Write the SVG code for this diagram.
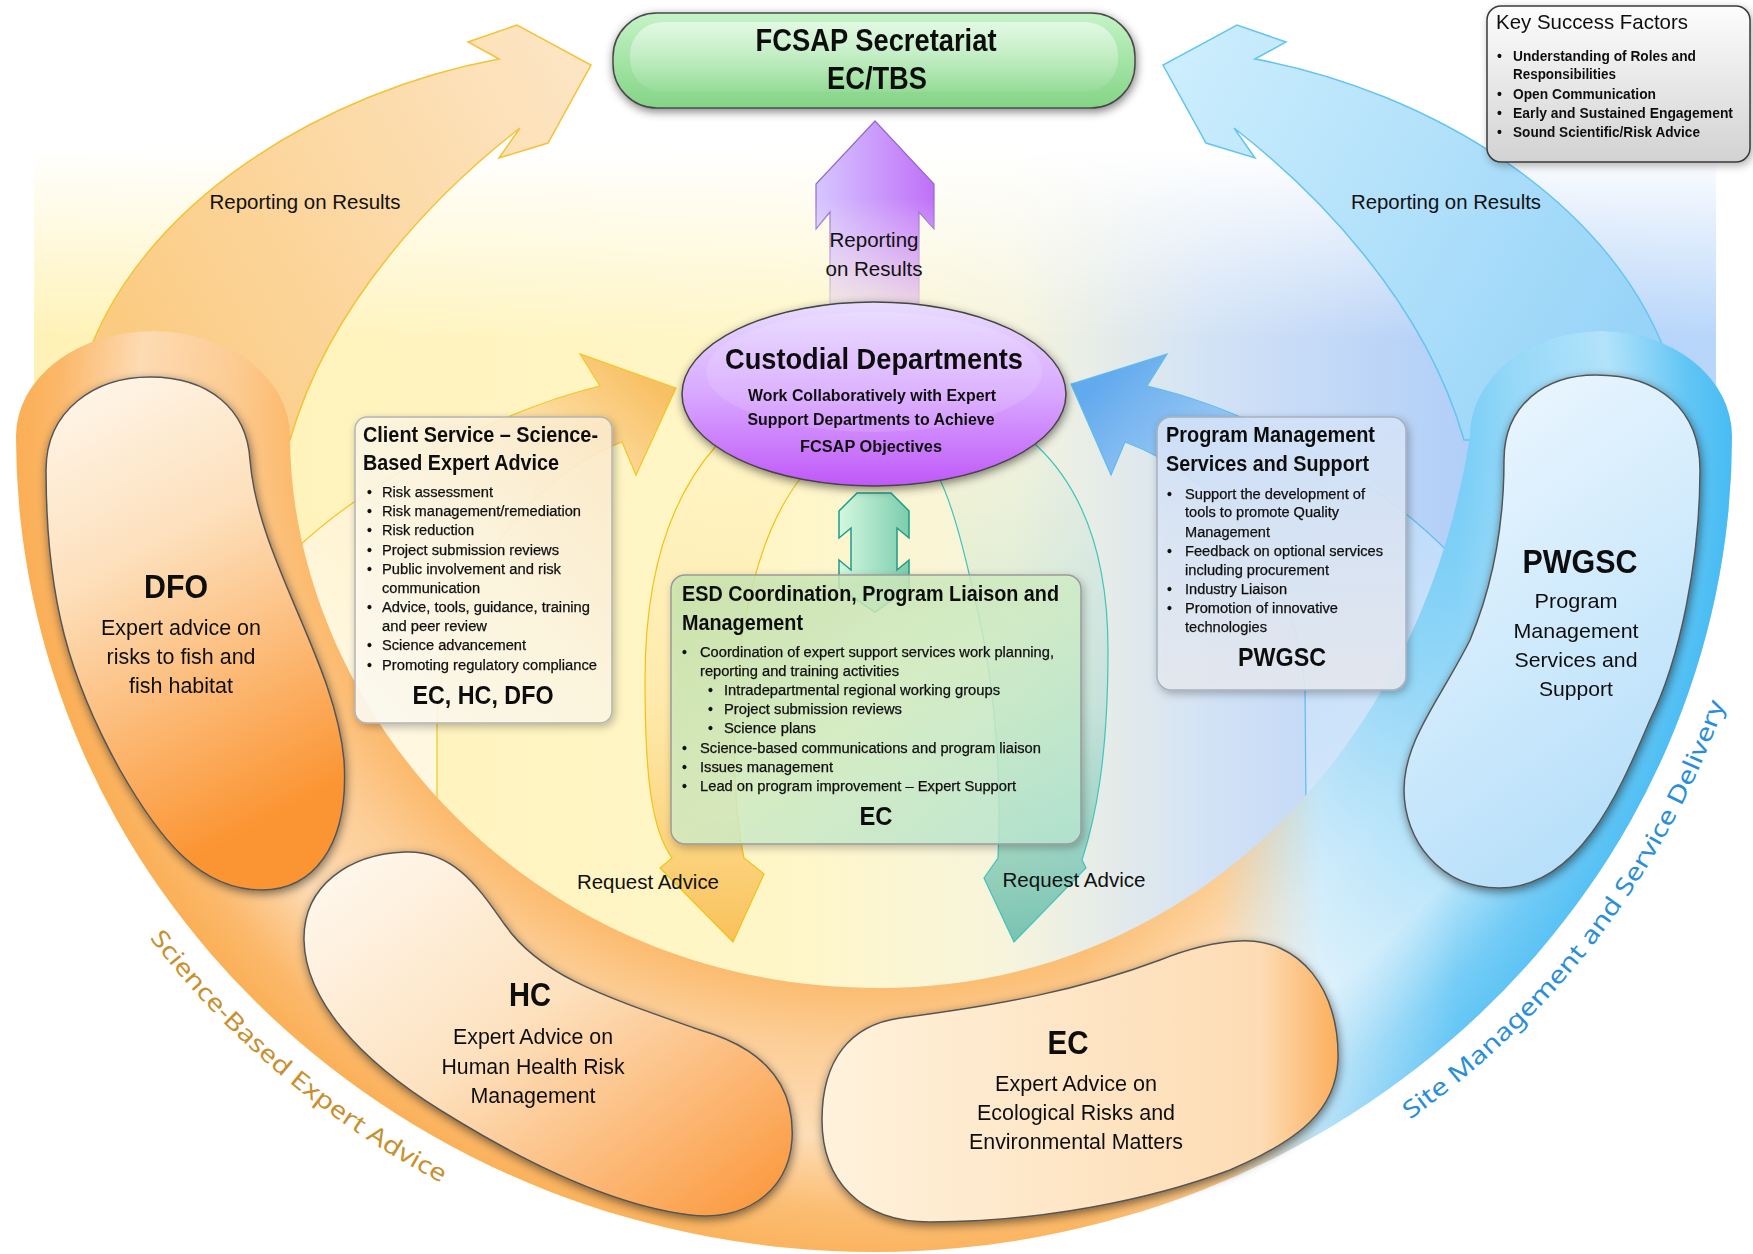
<svg xmlns="http://www.w3.org/2000/svg" width="1753" height="1254" viewBox="0 0 1753 1254">
<defs>
<style>
.f{font-family:"Liberation Sans",Arial,Helvetica,sans-serif;fill:#111}
.bd{font-weight:700}
.bl{stroke:#111;stroke-width:0.25}
</style>
<filter id="sh" x="-20%" y="-20%" width="140%" height="140%">
<feGaussianBlur in="SourceAlpha" stdDeviation="5"/><feOffset dx="1" dy="3" result="b"/>
<feFlood flood-color="#000" flood-opacity="0.5"/><feComposite in2="b" operator="in"/>
<feMerge><feMergeNode/><feMergeNode in="SourceGraphic"/></feMerge>
</filter>
<filter id="sh2" x="-20%" y="-20%" width="140%" height="140%">
<feGaussianBlur in="SourceAlpha" stdDeviation="4"/><feOffset dx="2" dy="3" result="b"/>
<feFlood flood-color="#000" flood-opacity="0.3"/><feComposite in2="b" operator="in"/>
<feMerge><feMergeNode/><feMergeNode in="SourceGraphic"/></feMerge>
</filter>
<linearGradient id="gBg" gradientUnits="userSpaceOnUse" x1="34" y1="0" x2="1716" y2="0">
<stop offset="0" stop-color="#fff2b6"/><stop offset="0.45" stop-color="#fff6c8"/><stop offset="0.58" stop-color="#f6f4dc"/><stop offset="0.7" stop-color="#d2e2f6"/><stop offset="0.85" stop-color="#b2cff8"/><stop offset="1" stop-color="#b8d6fa"/>
</linearGradient>
<linearGradient id="gFadeTop" gradientUnits="userSpaceOnUse" x1="0" y1="150" x2="0" y2="340">
<stop offset="0" stop-color="#fff" stop-opacity="1"/><stop offset="1" stop-color="#fff" stop-opacity="0"/>
</linearGradient>
<linearGradient id="gBand" gradientUnits="userSpaceOnUse" x1="16" y1="0" x2="1732" y2="0">
<stop offset="0" stop-color="#fbae55"/><stop offset="0.62" stop-color="#fbb663"/><stop offset="0.7" stop-color="#fcc888"/><stop offset="0.76" stop-color="#b8e2f8"/><stop offset="0.84" stop-color="#64c6f5"/><stop offset="1" stop-color="#48bcf3"/>
</linearGradient>
<radialGradient id="gBandHi" gradientUnits="userSpaceOnUse" cx="874" cy="436" r="858" gradientTransform="translate(874 436) scale(1 0.951) translate(-874 -436)">
<stop offset="0.64" stop-color="#fff" stop-opacity="0"/><stop offset="0.75" stop-color="#fff" stop-opacity="0.35"/><stop offset="0.86" stop-color="#fff" stop-opacity="0.55"/><stop offset="0.95" stop-color="#fff" stop-opacity="0.12"/><stop offset="1" stop-color="#fff" stop-opacity="0"/>
</radialGradient>
<linearGradient id="gRepL" gradientUnits="userSpaceOnUse" x1="120" y1="330" x2="590" y2="60">
<stop offset="0" stop-color="#fbcb82"/><stop offset="1" stop-color="#fde6c6"/>
</linearGradient>
<linearGradient id="gRepR" gradientUnits="userSpaceOnUse" x1="1630" y1="330" x2="1165" y2="60">
<stop offset="0" stop-color="#98d4f8"/><stop offset="1" stop-color="#cdeefd"/>
</linearGradient>
<linearGradient id="gSmL" gradientUnits="userSpaceOnUse" x1="360" y1="700" x2="660" y2="390">
<stop offset="0" stop-color="#fff8e6" stop-opacity="0.85"/><stop offset="0.55" stop-color="#fff0cc" stop-opacity="0.8"/><stop offset="1" stop-color="#f8c064"/>
</linearGradient>
<linearGradient id="gSmR" gradientUnits="userSpaceOnUse" x1="1400" y1="700" x2="1090" y2="390">
<stop offset="0" stop-color="#d6eafc" stop-opacity="0.7"/><stop offset="0.6" stop-color="#a6cff6" stop-opacity="0.85"/><stop offset="1" stop-color="#62aaee"/>
</linearGradient>
<linearGradient id="gReqL" gradientUnits="userSpaceOnUse" x1="0" y1="460" x2="0" y2="940">
<stop offset="0" stop-color="#fcd27a" stop-opacity="0.05"/><stop offset="0.5" stop-color="#fbc860" stop-opacity="0.25"/><stop offset="1" stop-color="#f8b848" stop-opacity="0.85"/>
</linearGradient>
<linearGradient id="gReqR" gradientUnits="userSpaceOnUse" x1="0" y1="460" x2="0" y2="940">
<stop offset="0" stop-color="#7ad0c0" stop-opacity="0.05"/><stop offset="0.5" stop-color="#6cc6b4" stop-opacity="0.25"/><stop offset="1" stop-color="#5ab8a6" stop-opacity="0.8"/>
</linearGradient>
<linearGradient id="gDFO" x1="0" y1="0" x2="0.3" y2="1">
<stop offset="0" stop-color="#fff8ee"/><stop offset="0.4" stop-color="#fde0bc"/><stop offset="1" stop-color="#fb9432"/>
</linearGradient>
<linearGradient id="gHC" x1="0" y1="0" x2="1" y2="1">
<stop offset="0" stop-color="#fffaf2"/><stop offset="0.45" stop-color="#fde2c0"/><stop offset="1" stop-color="#fb9436"/>
</linearGradient>
<linearGradient id="gEC" x1="0" y1="0" x2="1" y2="0">
<stop offset="0" stop-color="#fff2dc"/><stop offset="0.85" stop-color="#fddcb4"/><stop offset="1" stop-color="#fbae5c"/>
</linearGradient>
<linearGradient id="gPW" x1="0" y1="0" x2="0.4" y2="1">
<stop offset="0" stop-color="#f2f9ff"/><stop offset="1" stop-color="#b8e0fa"/>
</linearGradient>
<linearGradient id="gFc" x1="0" y1="0" x2="0" y2="1">
<stop offset="0" stop-color="#c4f4c6"/><stop offset="1" stop-color="#84d486"/>
</linearGradient>
<linearGradient id="gFcHi" x1="0" y1="0" x2="0" y2="1">
<stop offset="0" stop-color="#fff" stop-opacity="0.55"/><stop offset="1" stop-color="#fff" stop-opacity="0.05"/>
</linearGradient>
<linearGradient id="gKsf" x1="0" y1="0" x2="0" y2="1">
<stop offset="0" stop-color="#fdfdfd"/><stop offset="1" stop-color="#d2d2d2"/>
</linearGradient>
<linearGradient id="gCli" x1="1" y1="0" x2="0" y2="1">
<stop offset="0" stop-color="#ffeccc"/><stop offset="0.5" stop-color="#fff8e4"/><stop offset="1" stop-color="#fffdf4"/>
</linearGradient>
<linearGradient id="gEsd" x1="0" y1="0" x2="1" y2="1">
<stop offset="0" stop-color="#c8e6ae"/><stop offset="0.5" stop-color="#d4f0c8"/><stop offset="1" stop-color="#b8ead6"/>
</linearGradient>
<linearGradient id="gPm" x1="0" y1="0" x2="0" y2="1">
<stop offset="0" stop-color="#d4e4fb"/><stop offset="1" stop-color="#e6eaf0"/>
</linearGradient>
<linearGradient id="gCus" x1="0" y1="0" x2="0" y2="1">
<stop offset="0" stop-color="#e8dcff"/><stop offset="0.5" stop-color="#d8a8ff"/><stop offset="1" stop-color="#c058f8"/>
</linearGradient>
<linearGradient id="gPur" gradientUnits="userSpaceOnUse" x1="816" y1="0" x2="934" y2="0">
<stop offset="0" stop-color="#d6c6ff"/><stop offset="1" stop-color="#c070f8"/>
</linearGradient>
<linearGradient id="gFadeV" gradientUnits="userSpaceOnUse" x1="0" y1="110" x2="0" y2="330">
<stop offset="0" stop-color="#fff"/><stop offset="0.4" stop-color="#fff"/><stop offset="1" stop-color="#1a1a1a"/>
</linearGradient>
<mask id="mPur" maskUnits="userSpaceOnUse" x="790" y="100" width="170" height="240">
<rect x="790" y="100" width="170" height="240" fill="url(#gFadeV)"/>
</mask>
<linearGradient id="gTeal" x1="0" y1="0" x2="1" y2="0">
<stop offset="0" stop-color="#ccf8e2"/><stop offset="1" stop-color="#66c6a6"/>
</linearGradient>
<path id="arcL" d="M -22,436 A 896 853 0 0 0 874,1289"/>
<path id="arcR" d="M 874,1289 A 896 853 0 0 0 1770,436"/>
</defs>

<rect width="1753" height="1254" fill="#fff"/>

<g id="background">
<rect x="34" y="150" width="1682" height="290" fill="url(#gBg)"/>
<rect x="34" y="150" width="1682" height="290" fill="url(#gFadeTop)"/>
<path d="M16,436 A 858 816 0 0 0 1732,436 Z" fill="url(#gBg)"/>
</g>

<g id="connectors">
<path id="rep-left" d="M82,372 C135,200 330,90 499,59 L468,42 L517,25 L591,65 L548,143 L499,158 L520,128 C440,190 330,300 290,440 L200,440 Z" fill="url(#gRepL)" stroke="#f5c232" stroke-width="1.5"/>
<path id="rep-right" d="M1672,372 C1619,200 1424,90 1255,59 L1286,42 L1237,25 L1163,65 L1206,143 L1255,158 L1234,128 C1314,190 1424,300 1464,440 L1554,440 Z" fill="url(#gRepR)" stroke="#64c4f2" stroke-width="1.5"/>
<path id="adv-left" d="M676,388 L580,354 L600,386 C500,410 370,480 298,547 L300,640 L380,760 L437,830 L437,723 C440,600 520,480 622,442 L636,475 Z" fill="url(#gSmL)" stroke="#f5c520" stroke-width="1.2"/>
<path id="adv-right" d="M1071,384 L1167,354 L1147,386 C1250,410 1380,480 1452,556 L1475,620 L1420,740 L1306,810 L1305,690 C1300,590 1230,480 1125,442 L1111,475 Z" fill="url(#gSmR)" stroke="#5cbcf0" stroke-width="1.2"/>
</g>

<g id="ring">
<path d="M16,436 A 858 816 0 0 0 1732,436 A 131 105 0 0 0 1470,436 C1420,760 1180,988 880,988 C520,988 290,700 290,436 A 137 105 0 0 0 16,436 Z" fill="url(#gBand)"/>
<path d="M16,436 A 858 816 0 0 0 1732,436 A 131 105 0 0 0 1470,436 C1420,760 1180,988 880,988 C520,988 290,700 290,436 A 137 105 0 0 0 16,436 Z" fill="url(#gBandHi)"/>
</g>

<g id="connectors2">
<path id="req-left" d="M716,446 C668,500 645,580 645,680 C645,780 652,830 672,858 L660,868 L733,942 L764,874 L744,858 C732,800 730,700 745,620 C758,550 780,505 800,479 Z" fill="url(#gReqL)" stroke="#f5c010" stroke-width="1.2"/>
<path id="req-right" d="M1035,444 C1085,490 1108,560 1108,650 C1108,760 1095,820 1082,860 L1086,868 L1014,942 L984,878 L998,858 C1002,780 995,680 975,600 C962,540 950,500 940,480 Z" fill="url(#gReqR)" stroke="#40c4bc" stroke-width="1.2"/>
<path id="both" d="M857,493 L891,493 L909,511 L909,538 L897,528 L897,570 L909,560 L909,588 L875,612 L839,588 L839,560 L851,570 L851,528 L839,538 L839,511 Z" fill="url(#gTeal)" fill-opacity="0.85" stroke="#1e9c8a" stroke-width="1.5"/>
</g>

<g id="node-dfo" filter="url(#sh)">
<path d="M150,377 C210,377 247,410 250,460 C258,560 335,660 344,760 C350,850 310,890 262,890 C200,890 160,840 120,770 C70,680 46,600 46,470 C46,410 95,377 150,377 Z" fill="url(#gDFO)" stroke="#555" stroke-width="1.5"/>
<text class="f bd" x="176" y="598" font-size="34" text-anchor="middle" textLength="64" lengthAdjust="spacingAndGlyphs">DFO</text>
<text class="f" x="181" y="635" font-size="22" text-anchor="middle" textLength="160" lengthAdjust="spacingAndGlyphs">Expert advice on</text>
<text class="f" x="181" y="664" font-size="22" text-anchor="middle" textLength="149" lengthAdjust="spacingAndGlyphs">risks to fish and</text>
<text class="f" x="181" y="693" font-size="22" text-anchor="middle" textLength="104" lengthAdjust="spacingAndGlyphs">fish habitat</text>
</g>

<g id="node-hc" filter="url(#sh)">
<path d="M405,852 C455,850 480,890 505,925 C540,975 600,995 700,1030 C770,1050 795,1090 792,1140 C788,1195 740,1222 690,1215 C610,1205 520,1160 440,1110 C360,1060 305,1000 304,940 C303,885 350,854 405,852 Z" fill="url(#gHC)" stroke="#555" stroke-width="1.5"/>
<text class="f bd" x="530" y="1006" font-size="34" text-anchor="middle" textLength="42" lengthAdjust="spacingAndGlyphs">HC</text>
<text class="f" x="533" y="1044" font-size="22" text-anchor="middle" textLength="160" lengthAdjust="spacingAndGlyphs">Expert Advice on</text>
<text class="f" x="533" y="1074" font-size="22" text-anchor="middle" textLength="183" lengthAdjust="spacingAndGlyphs">Human Health Risk</text>
<text class="f" x="533" y="1103" font-size="22" text-anchor="middle" textLength="125" lengthAdjust="spacingAndGlyphs">Management</text>
</g>

<g id="node-ec" filter="url(#sh)">
<path d="M1240,941 C1300,938 1340,990 1338,1060 C1336,1110 1300,1140 1230,1170 C1150,1200 1040,1222 930,1222 C860,1222 822,1180 822,1120 C822,1060 850,1025 900,1018 C1000,1005 1080,990 1160,960 C1190,948 1215,942 1240,941 Z" fill="url(#gEC)" stroke="#555" stroke-width="1.5"/>
<text class="f bd" x="1068" y="1054" font-size="34" text-anchor="middle" textLength="41" lengthAdjust="spacingAndGlyphs">EC</text>
<text class="f" x="1076" y="1091" font-size="22" text-anchor="middle" textLength="162" lengthAdjust="spacingAndGlyphs">Expert Advice on</text>
<text class="f" x="1076" y="1120" font-size="22" text-anchor="middle" textLength="198" lengthAdjust="spacingAndGlyphs">Ecological Risks and</text>
<text class="f" x="1076" y="1149" font-size="22" text-anchor="middle" textLength="214" lengthAdjust="spacingAndGlyphs">Environmental Matters</text>
</g>

<g id="node-pwgsc" filter="url(#sh)">
<path d="M1596,375 C1660,375 1700,410 1700,470 C1700,560 1680,660 1650,720 C1620,790 1580,888 1499,888 C1440,888 1404,840 1404,790 C1404,740 1440,700 1470,640 C1495,580 1504,520 1504,460 C1504,405 1545,375 1596,375 Z" fill="url(#gPW)" stroke="#555" stroke-width="1.5"/>
<text class="f bd" x="1580" y="573" font-size="34" text-anchor="middle" textLength="115" lengthAdjust="spacingAndGlyphs">PWGSC</text>
<text class="f" x="1576" y="608" font-size="21" text-anchor="middle" textLength="83" lengthAdjust="spacingAndGlyphs">Program</text>
<text class="f" x="1576" y="638" font-size="21" text-anchor="middle" textLength="125" lengthAdjust="spacingAndGlyphs">Management</text>
<text class="f" x="1576" y="667" font-size="21" text-anchor="middle" textLength="123" lengthAdjust="spacingAndGlyphs">Services and</text>
<text class="f" x="1576" y="696" font-size="21" text-anchor="middle" textLength="74" lengthAdjust="spacingAndGlyphs">Support</text>
</g>

<g id="node-client" filter="url(#sh2)">
<rect x="355" y="417" width="257" height="306" rx="12" fill="url(#gCli)" fill-opacity="0.88" stroke="#b4b4b4" stroke-width="1.5"/>
<text class="f bd" x="363" y="442" font-size="22" textLength="235" lengthAdjust="spacingAndGlyphs">Client Service – Science-</text>
<text class="f bd" x="363" y="470" font-size="22" textLength="196" lengthAdjust="spacingAndGlyphs">Based Expert Advice</text>
<g class="f bl" font-size="14">
<text x="367" y="497">•</text><text x="382" y="497" textLength="111" lengthAdjust="spacingAndGlyphs">Risk assessment</text>
<text x="367" y="516">•</text><text x="382" y="516" textLength="199" lengthAdjust="spacingAndGlyphs">Risk management/remediation</text>
<text x="367" y="535">•</text><text x="382" y="535" textLength="92" lengthAdjust="spacingAndGlyphs">Risk reduction</text>
<text x="367" y="555">•</text><text x="382" y="555" textLength="177" lengthAdjust="spacingAndGlyphs">Project submission reviews</text>
<text x="367" y="574">•</text><text x="382" y="574" textLength="179" lengthAdjust="spacingAndGlyphs">Public involvement and risk</text>
<text x="382" y="593" textLength="98" lengthAdjust="spacingAndGlyphs">communication</text>
<text x="367" y="612">•</text><text x="382" y="612" textLength="208" lengthAdjust="spacingAndGlyphs">Advice, tools, guidance, training</text>
<text x="382" y="631" textLength="105" lengthAdjust="spacingAndGlyphs">and peer review</text>
<text x="367" y="650">•</text><text x="382" y="650" textLength="144" lengthAdjust="spacingAndGlyphs">Science advancement</text>
<text x="367" y="670">•</text><text x="382" y="670" textLength="215" lengthAdjust="spacingAndGlyphs">Promoting regulatory compliance</text>
</g>
<text class="f bd" x="483" y="704" font-size="26" text-anchor="middle" textLength="141" lengthAdjust="spacingAndGlyphs">EC, HC, DFO</text>
</g>

<g id="node-program" filter="url(#sh2)">
<rect x="1157" y="417" width="249" height="273" rx="14" fill="url(#gPm)" fill-opacity="0.9" stroke="#a8b0bc" stroke-width="1.5"/>
<text class="f bd" x="1166" y="442" font-size="22" textLength="209" lengthAdjust="spacingAndGlyphs">Program Management</text>
<text class="f bd" x="1166" y="471" font-size="22" textLength="203" lengthAdjust="spacingAndGlyphs">Services and Support</text>
<g class="f bl" font-size="14">
<text x="1167" y="499">•</text><text x="1185" y="499" textLength="180" lengthAdjust="spacingAndGlyphs">Support the development of</text>
<text x="1185" y="517" textLength="154" lengthAdjust="spacingAndGlyphs">tools to promote Quality</text>
<text x="1185" y="537" textLength="85" lengthAdjust="spacingAndGlyphs">Management</text>
<text x="1167" y="556">•</text><text x="1185" y="556" textLength="198" lengthAdjust="spacingAndGlyphs">Feedback on optional services</text>
<text x="1185" y="575" textLength="144" lengthAdjust="spacingAndGlyphs">including procurement</text>
<text x="1167" y="594">•</text><text x="1185" y="594" textLength="102" lengthAdjust="spacingAndGlyphs">Industry Liaison</text>
<text x="1167" y="613">•</text><text x="1185" y="613" textLength="153" lengthAdjust="spacingAndGlyphs">Promotion of innovative</text>
<text x="1185" y="632" textLength="82" lengthAdjust="spacingAndGlyphs">technologies</text>
</g>
<text class="f bd" x="1282" y="666" font-size="26" text-anchor="middle" textLength="88" lengthAdjust="spacingAndGlyphs">PWGSC</text>
</g>

<g id="node-esd" filter="url(#sh2)">
<rect x="671" y="575" width="410" height="269" rx="14" fill="url(#gEsd)" fill-opacity="0.8" stroke="#9a9a9a" stroke-width="1.5"/>
<text class="f bd" x="682" y="601" font-size="22" textLength="377" lengthAdjust="spacingAndGlyphs">ESD Coordination, Program Liaison and</text>
<text class="f bd" x="682" y="630" font-size="22" textLength="121" lengthAdjust="spacingAndGlyphs">Management</text>
<g class="f bl" font-size="14">
<text x="682" y="657">•</text><text x="700" y="657" textLength="354" lengthAdjust="spacingAndGlyphs">Coordination of expert support services work planning,</text>
<text x="700" y="676" textLength="199" lengthAdjust="spacingAndGlyphs">reporting and training activities</text>
<text x="708" y="695">•</text><text x="724" y="695" textLength="276" lengthAdjust="spacingAndGlyphs">Intradepartmental regional working groups</text>
<text x="708" y="714">•</text><text x="724" y="714" textLength="178" lengthAdjust="spacingAndGlyphs">Project submission reviews</text>
<text x="708" y="733">•</text><text x="724" y="733" textLength="92" lengthAdjust="spacingAndGlyphs">Science plans</text>
<text x="682" y="753">•</text><text x="700" y="753" textLength="341" lengthAdjust="spacingAndGlyphs">Science-based communications and program liaison</text>
<text x="682" y="772">•</text><text x="700" y="772" textLength="133" lengthAdjust="spacingAndGlyphs">Issues management</text>
<text x="682" y="791">•</text><text x="700" y="791" textLength="316" lengthAdjust="spacingAndGlyphs">Lead on program improvement – Expert Support</text>
</g>
<text class="f bd" x="876" y="825" font-size="26" text-anchor="middle" textLength="33" lengthAdjust="spacingAndGlyphs">EC</text>
</g>

<g id="connector-up">
<path d="M875,121 L934,184 L934,229 L919,212 L919,330 L830,330 L830,212 L816,229 L816,184 Z" fill="url(#gPur)" stroke="#9468cc" stroke-width="1.2" mask="url(#mPur)"/>
</g>

<g id="node-custodial" filter="url(#sh)">
<ellipse cx="874" cy="394" rx="192" ry="92" fill="url(#gCus)" stroke="#444" stroke-width="1.5"/>
<ellipse cx="874" cy="372" rx="168" ry="60" fill="#fff" fill-opacity="0.12"/>
<text class="f bd" x="874" y="369" font-size="30" text-anchor="middle" textLength="298" lengthAdjust="spacingAndGlyphs">Custodial Departments</text>
<text class="f bd" x="872" y="401" font-size="16" text-anchor="middle" textLength="248" lengthAdjust="spacingAndGlyphs">Work Collaboratively with Expert</text>
<text class="f bd" x="871" y="425" font-size="16" text-anchor="middle" textLength="247" lengthAdjust="spacingAndGlyphs">Support Departments to Achieve</text>
<text class="f bd" x="871" y="452" font-size="16" text-anchor="middle" textLength="142" lengthAdjust="spacingAndGlyphs">FCSAP Objectives</text>
</g>

<g id="node-fcsap" filter="url(#sh)">
<rect x="613" y="13" width="522" height="95" rx="44" fill="url(#gFc)" stroke="#4a4a4a" stroke-width="1.5"/>
<rect x="630" y="22" width="488" height="70" rx="33" fill="url(#gFcHi)"/>
<text class="f bd" x="876" y="51" font-size="31" text-anchor="middle" textLength="241" lengthAdjust="spacingAndGlyphs">FCSAP Secretariat</text>
<text class="f bd" x="877" y="89" font-size="31" text-anchor="middle" textLength="100" lengthAdjust="spacingAndGlyphs">EC/TBS</text>
</g>

<g id="node-ksf" filter="url(#sh2)">
<rect x="1487" y="6" width="263" height="156" rx="14" fill="url(#gKsf)" stroke="#3a3a3a" stroke-width="1.5"/>
<text class="f" x="1496" y="29" font-size="21" textLength="192" lengthAdjust="spacingAndGlyphs">Key Success Factors</text>
<g class="f bd" font-size="14">
<text x="1497" y="61">•</text><text x="1513" y="61" textLength="183" lengthAdjust="spacingAndGlyphs">Understanding of Roles and</text>
<text x="1513" y="79" textLength="103" lengthAdjust="spacingAndGlyphs">Responsibilities</text>
<text x="1497" y="99">•</text><text x="1513" y="99" textLength="143" lengthAdjust="spacingAndGlyphs">Open Communication</text>
<text x="1497" y="118">•</text><text x="1513" y="118" textLength="220" lengthAdjust="spacingAndGlyphs">Early and Sustained Engagement</text>
<text x="1497" y="137">•</text><text x="1513" y="137" textLength="187" lengthAdjust="spacingAndGlyphs">Sound Scientific/Risk Advice</text>
</g>
</g>

<g id="labels">
<text class="f" x="305" y="209" font-size="21" text-anchor="middle" textLength="191" lengthAdjust="spacingAndGlyphs">Reporting on Results</text>
<text class="f" x="1446" y="209" font-size="21" text-anchor="middle" textLength="190" lengthAdjust="spacingAndGlyphs">Reporting on Results</text>
<text class="f" x="874" y="247" font-size="21" text-anchor="middle" textLength="89" lengthAdjust="spacingAndGlyphs">Reporting</text>
<text class="f" x="874" y="276" font-size="21" text-anchor="middle" textLength="97" lengthAdjust="spacingAndGlyphs">on Results</text>
<text class="f" x="648" y="889" font-size="21" text-anchor="middle" textLength="142" lengthAdjust="spacingAndGlyphs">Request Advice</text>
<text class="f" x="1074" y="887" font-size="21" text-anchor="middle" textLength="143" lengthAdjust="spacingAndGlyphs">Request Advice</text>
<text font-family="'Noto Sans','Open Sans',sans-serif" font-size="24" fill="#c8902e"><textPath href="#arcL" startOffset="540" textLength="384" lengthAdjust="spacingAndGlyphs">Science-Based Expert Advice</textPath></text>
<text font-family="'Noto Sans','Open Sans',sans-serif" font-size="24" fill="#2a8fd8"><textPath href="#arcR" startOffset="571" textLength="530" lengthAdjust="spacingAndGlyphs">Site Management and Service Delivery</textPath></text>
</g>
</svg>
